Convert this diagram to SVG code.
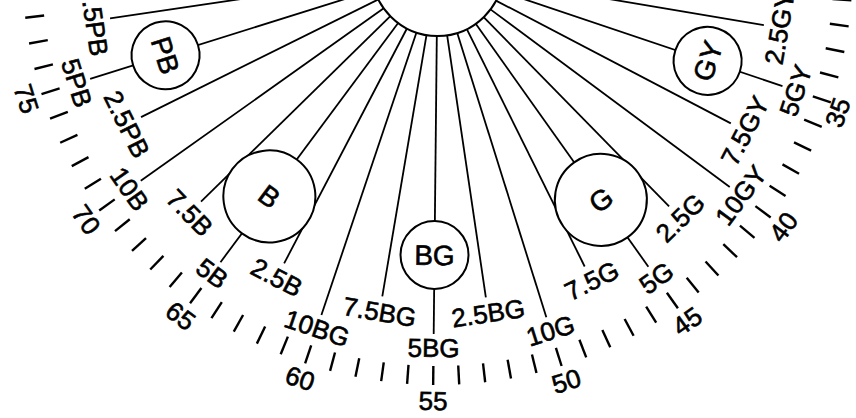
<svg xmlns="http://www.w3.org/2000/svg" width="856" height="418" viewBox="0 0 856 418">
<style>
.ln{stroke:#000;stroke-width:1.8;fill:none}
.tk{stroke:#000;stroke-width:2.4}
.nd{fill:#fff;stroke:#000;stroke-width:2}
.t{font-family:"Liberation Sans",Arial,sans-serif;font-size:26px;fill:#000;stroke:#000;stroke-width:0.6;text-anchor:middle}
.c{font-family:"Liberation Sans",Arial,sans-serif;font-size:28px;fill:#000;stroke:#000;stroke-width:0.6;text-anchor:middle}
</style>
<rect width="856" height="418" fill="#fff"/>
<defs>
<line id="sl" class="ln" x1="437.5" y1="36" x2="437.5" y2="301"/>
<line id="ll" class="ln" x1="437.5" y1="36" x2="437.5" y2="334"/>
<line id="tick" class="tk" x1="437.5" y1="366" x2="437.5" y2="385"/>
</defs>
<g id="connectors">
<use href="#sl" transform="rotate(-80.4 437.5 -30)"/>
<use href="#ll" transform="rotate(-71.4 437.5 -30)"/>
<use href="#sl" transform="rotate(-62.4 437.5 -30)"/>
<use href="#ll" transform="rotate(-53.4 437.5 -30)"/>
<use href="#sl" transform="rotate(-44.4 437.5 -30)"/>
<use href="#ll" transform="rotate(-35.4 437.5 -30)"/>
<use href="#sl" transform="rotate(-26.4 437.5 -30)"/>
<use href="#ll" transform="rotate(-17.4 437.5 -30)"/>
<use href="#sl" transform="rotate(-8.4 437.5 -30)"/>
<use href="#ll" transform="rotate(0.6 437.5 -30)"/>
<use href="#sl" transform="rotate(9.6 437.5 -30)"/>
<use href="#ll" transform="rotate(18.6 437.5 -30)"/>
<use href="#sl" transform="rotate(27.6 437.5 -30)"/>
<use href="#ll" transform="rotate(36.6 437.5 -30)"/>
<use href="#sl" transform="rotate(45.6 437.5 -30)"/>
<use href="#ll" transform="rotate(54.6 437.5 -30)"/>
<use href="#sl" transform="rotate(63.6 437.5 -30)"/>
<use href="#ll" transform="rotate(72.6 437.5 -30)"/>
<use href="#sl" transform="rotate(81.6 437.5 -30)"/>
</g>
<g id="center"><circle class="nd" cx="437.5" cy="-30" r="66"/></g>
<g id="GY" transform="rotate(-71.4 437.5 -30)"><circle class="nd" cx="437.5" cy="255" r="34"/><text class="c" x="437.5" y="265">GY</text></g>
<g id="G" transform="rotate(-35.4 437.5 -30)"><circle class="nd" cx="437.5" cy="252" r="46"/><text class="c" x="437.5" y="262">G</text></g>
<g id="BG" transform="rotate(0.6 437.5 -30)"><circle class="nd" cx="437.5" cy="255" r="34"/><text class="c" x="437.5" y="265">BG</text></g>
<g id="B" transform="rotate(36.6 437.5 -30)"><circle class="nd" cx="437.5" cy="252" r="46"/><text class="c" x="437.5" y="262">B</text></g>
<g id="PB" transform="rotate(72.6 437.5 -30)"><circle class="nd" cx="437.5" cy="255" r="34"/><text class="c" x="437.5" y="265">PB</text></g>
<g id="hue-labels">
<text class="t" x="437.5" y="326" transform="rotate(-80.4 437.5 -30)">2.5GY</text>
<text class="t" x="437.5" y="357" transform="rotate(-71.4 437.5 -30)">5GY</text>
<text class="t" x="437.5" y="326" transform="rotate(-62.4 437.5 -30)">7.5GY</text>
<text class="t" x="437.5" y="357" transform="rotate(-53.4 437.5 -30)">10GY</text>
<text class="t" x="437.5" y="326" transform="rotate(-44.4 437.5 -30)">2.5G</text>
<text class="t" x="437.5" y="357" transform="rotate(-35.4 437.5 -30)">5G</text>
<text class="t" x="437.5" y="326" transform="rotate(-26.4 437.5 -30)">7.5G</text>
<text class="t" x="437.5" y="357" transform="rotate(-17.4 437.5 -30)">10G</text>
<text class="t" x="437.5" y="326" transform="rotate(-8.4 437.5 -30)">2.5BG</text>
<text class="t" x="437.5" y="357" transform="rotate(0.6 437.5 -30)">5BG</text>
<text class="t" x="437.5" y="326" transform="rotate(9.6 437.5 -30)">7.5BG</text>
<text class="t" x="437.5" y="357" transform="rotate(18.6 437.5 -30)">10BG</text>
<text class="t" x="437.5" y="326" transform="rotate(27.6 437.5 -30)">2.5B</text>
<text class="t" x="437.5" y="357" transform="rotate(36.6 437.5 -30)">5B</text>
<text class="t" x="437.5" y="326" transform="rotate(45.6 437.5 -30)">7.5B</text>
<text class="t" x="437.5" y="357" transform="rotate(54.6 437.5 -30)">10B</text>
<text class="t" x="437.5" y="326" transform="rotate(63.6 437.5 -30)">2.5PB</text>
<text class="t" x="437.5" y="357" transform="rotate(72.6 437.5 -30)">5PB</text>
<text class="t" x="437.5" y="326" transform="rotate(81.6 437.5 -30)">7.5PB</text>
</g>
<g id="scale">
<use href="#tick" transform="rotate(-85.8 437.5 -30)"/>
<use href="#tick" transform="rotate(-82.2 437.5 -30)"/>
<use href="#tick" transform="rotate(-78.6 437.5 -30)"/>
<use href="#tick" transform="rotate(-75 437.5 -30)"/>
<use href="#tick" transform="rotate(-71.4 437.5 -30)"/>
<use href="#tick" transform="rotate(-67.8 437.5 -30)"/>
<use href="#tick" transform="rotate(-64.2 437.5 -30)"/>
<use href="#tick" transform="rotate(-60.6 437.5 -30)"/>
<use href="#tick" transform="rotate(-57 437.5 -30)"/>
<use href="#tick" transform="rotate(-53.4 437.5 -30)"/>
<use href="#tick" transform="rotate(-49.8 437.5 -30)"/>
<use href="#tick" transform="rotate(-46.2 437.5 -30)"/>
<use href="#tick" transform="rotate(-42.6 437.5 -30)"/>
<use href="#tick" transform="rotate(-39 437.5 -30)"/>
<use href="#tick" transform="rotate(-35.4 437.5 -30)"/>
<use href="#tick" transform="rotate(-31.8 437.5 -30)"/>
<use href="#tick" transform="rotate(-28.2 437.5 -30)"/>
<use href="#tick" transform="rotate(-24.6 437.5 -30)"/>
<use href="#tick" transform="rotate(-21 437.5 -30)"/>
<use href="#tick" transform="rotate(-17.4 437.5 -30)"/>
<use href="#tick" transform="rotate(-13.8 437.5 -30)"/>
<use href="#tick" transform="rotate(-10.2 437.5 -30)"/>
<use href="#tick" transform="rotate(-6.6 437.5 -30)"/>
<use href="#tick" transform="rotate(-3 437.5 -30)"/>
<use href="#tick" transform="rotate(0.6 437.5 -30)"/>
<use href="#tick" transform="rotate(4.2 437.5 -30)"/>
<use href="#tick" transform="rotate(7.8 437.5 -30)"/>
<use href="#tick" transform="rotate(11.4 437.5 -30)"/>
<use href="#tick" transform="rotate(15 437.5 -30)"/>
<use href="#tick" transform="rotate(18.6 437.5 -30)"/>
<use href="#tick" transform="rotate(22.2 437.5 -30)"/>
<use href="#tick" transform="rotate(25.8 437.5 -30)"/>
<use href="#tick" transform="rotate(29.4 437.5 -30)"/>
<use href="#tick" transform="rotate(33 437.5 -30)"/>
<use href="#tick" transform="rotate(36.6 437.5 -30)"/>
<use href="#tick" transform="rotate(40.2 437.5 -30)"/>
<use href="#tick" transform="rotate(43.8 437.5 -30)"/>
<use href="#tick" transform="rotate(47.4 437.5 -30)"/>
<use href="#tick" transform="rotate(51 437.5 -30)"/>
<use href="#tick" transform="rotate(54.6 437.5 -30)"/>
<use href="#tick" transform="rotate(58.2 437.5 -30)"/>
<use href="#tick" transform="rotate(61.8 437.5 -30)"/>
<use href="#tick" transform="rotate(65.4 437.5 -30)"/>
<use href="#tick" transform="rotate(69 437.5 -30)"/>
<use href="#tick" transform="rotate(72.6 437.5 -30)"/>
<use href="#tick" transform="rotate(76.2 437.5 -30)"/>
<use href="#tick" transform="rotate(79.8 437.5 -30)"/>
<use href="#tick" transform="rotate(83.4 437.5 -30)"/>
<text class="t" x="437.5" y="404" transform="rotate(-70.4 437.5 -30)">35</text>
<text class="t" x="437.5" y="410" transform="rotate(-53.4 437.5 -30)">40</text>
<text class="t" x="437.5" y="410" transform="rotate(-35.4 437.5 -30)">45</text>
<text class="t" x="437.5" y="410" transform="rotate(-17.4 437.5 -30)">50</text>
<text class="t" x="437.5" y="410" transform="rotate(0.6 437.5 -30)">55</text>
<text class="t" x="437.5" y="410" transform="rotate(18.6 437.5 -30)">60</text>
<text class="t" x="437.5" y="410" transform="rotate(36.6 437.5 -30)">65</text>
<text class="t" x="437.5" y="410" transform="rotate(54.6 437.5 -30)">70</text>
<text class="t" x="437.5" y="410" transform="rotate(72.6 437.5 -30)">75</text>
</g>
</svg>
